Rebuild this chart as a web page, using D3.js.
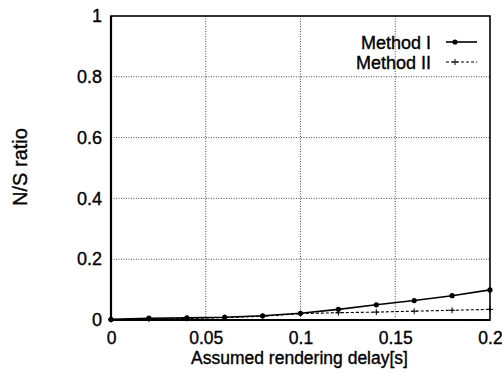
<!DOCTYPE html>
<html><head><meta charset="utf-8">
<script src="https://cdn.jsdelivr.net/npm/d3@7"></script>
<style>
body{margin:0;background:#fff;}
text{font-family:"Liberation Sans",Arial,sans-serif;fill:#000;stroke:#000;stroke-width:0.35px;}
</style></head>
<body>
<svg id="c" width="502" height="372"></svg>
<script>
const delays = [0, 0.02, 0.04, 0.06, 0.08, 0.1, 0.12, 0.14, 0.16, 0.18, 0.2];
const methodI  = [0.002, 0.006, 0.007, 0.009, 0.014, 0.022, 0.035, 0.050, 0.064, 0.080, 0.099];
const methodII = [0.001, 0.003, 0.005, 0.008, 0.012, 0.021, 0.024, 0.026, 0.029, 0.032, 0.035];
const xTicks = [0, 0.05, 0.1, 0.15, 0.2];
const xTickLabels = ["0", "0.05", "0.1", "0.15", "0.2"];
const yTicks = [0, 0.2, 0.4, 0.6, 0.8, 1];
const yTickLabels = ["0", "0.2", "0.4", "0.6", "0.8", "1"];
const seriesNames = ["Method I", "Method II"];

const svg = d3.select("#c");
const L = 111, R = 490, T = 16, B = 320;
const x = d3.scaleLinear().domain([0, 0.2]).range([L, R]);
const y = d3.scaleLinear().domain([0, 1]).range([B, T]);

// grid
const g = svg.append("g");
g.selectAll(".vg").data(xTicks.slice(1, -1)).enter().append("line")
  .attr("x1", d => x(d)).attr("x2", d => x(d)).attr("y1", T).attr("y2", B)
  .attr("stroke", "#222").attr("stroke-width", 0.8).attr("stroke-dasharray", "1,1.5");
g.selectAll(".hg").data(yTicks.slice(1, -1)).enter().append("line")
  .attr("y1", d => y(d)).attr("y2", d => y(d)).attr("x1", L).attr("x2", R)
  .attr("stroke", "#222").attr("stroke-width", 0.8).attr("stroke-dasharray", "1,1.5");

// axes with d3
const xAxis = d3.axisBottom(x).tickValues(xTicks).tickFormat((d, i) => xTickLabels[i]).tickSize(0).tickPadding(12);
const yAxis = d3.axisLeft(y).tickValues(yTicks).tickFormat((d, i) => yTickLabels[i]).tickSize(0).tickPadding(9);
const xa = svg.append("g").attr("transform", `translate(0,${B})`).call(xAxis);
const ya = svg.append("g").attr("transform", `translate(${L},0)`).call(yAxis);
xa.selectAll("text").attr("font-size", "17.5px");
ya.selectAll("text").attr("font-size", "18px");
[xa, ya].forEach(a => {
  a.select(".domain").remove();
  a.selectAll("text").attr("font-family", "Liberation Sans, Arial, sans-serif")
    .attr("fill", "#000").attr("stroke", "#000").attr("stroke-width", 0.35);
});

// frame
svg.append("rect").attr("x", L).attr("y", T).attr("width", R - L).attr("height", B - T)
  .attr("fill", "none").attr("stroke", "#000").attr("stroke-width", 1.6);
svg.append("line").attr("x1", L).attr("x2", L).attr("y1", T).attr("y2", B + 1).attr("stroke", "#000").attr("stroke-width", 2.2);
svg.append("line").attr("x1", L - 1).attr("x2", R).attr("y1", B).attr("y2", B).attr("stroke", "#000").attr("stroke-width", 2.2);

// lines
const line = d3.line().x((d, i) => x(delays[i])).y(d => y(d));
svg.append("path").datum(methodII).attr("d", line).attr("fill", "none")
  .attr("stroke", "#000").attr("stroke-width", 1.1).attr("stroke-dasharray", "3,2");
svg.append("path").datum(methodI).attr("d", line).attr("fill", "none")
  .attr("stroke", "#000").attr("stroke-width", 1.6);
svg.selectAll(".p1").data(methodI).enter().append("circle")
  .attr("cx", (d, i) => x(delays[i])).attr("cy", d => y(d)).attr("r", 2.6).attr("fill", "#000");
svg.selectAll(".p2").data(methodII).enter().append("path")
  .attr("transform", (d, i) => `translate(${x(delays[i])},${y(d)})`)
  .attr("d", "M-3,0H3M0,-3V3").attr("stroke", "#000").attr("stroke-width", 1);

// legend
const lg = svg.append("g");
const legY = [42, 62];
seriesNames.forEach((n, i) => {
  lg.append("text").attr("x", 431).attr("y", legY[i] + 7).attr("text-anchor", "end")
    .attr("font-size", "18px").text(n);
  lg.append("line").attr("x1", 446).attr("x2", 477).attr("y1", legY[i]).attr("y2", legY[i])
    .attr("stroke", "#000").attr("stroke-width", i === 0 ? 1.6 : 1.1).attr("stroke-dasharray", i === 0 ? null : "3,2");
  if (i === 0) lg.append("circle").attr("cx", 455).attr("cy", legY[i]).attr("r", 2.6).attr("fill", "#000");
  else lg.append("path").attr("transform", `translate(455,${legY[i]})`).attr("d", "M-3,0H3M0,-3V3").attr("stroke", "#000");
});

// axis titles
svg.append("text").attr("x", (L + R) / 2 - 1).attr("y", 364).attr("text-anchor", "middle")
  .attr("font-size", "17.5px").text("Assumed rendering delay[s]");
svg.append("text").attr("transform", "translate(27,167) rotate(-90)").attr("text-anchor", "middle")
  .attr("font-size", "20px").text("N/S ratio");
</script>
</body></html>
